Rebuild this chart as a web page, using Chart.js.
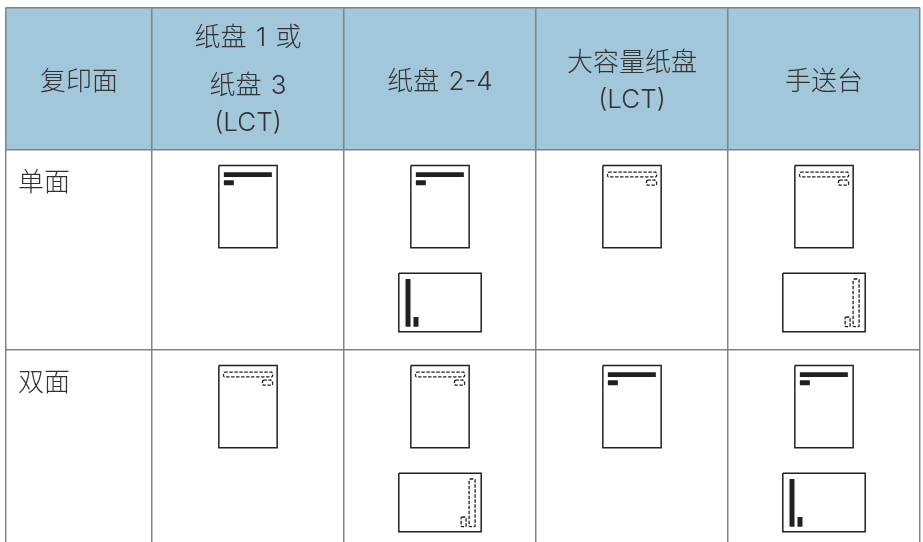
<!DOCTYPE html>
<html>
<head>
<meta charset="utf-8">
<style>
  html, body { margin: 0; padding: 0; background: #fff; }
  canvas { display: block; }
</style>
<script src="https://cdn.jsdelivr.net/npm/chart.js@4"></script>
</head>
<body>
<canvas id="paperChart" width="923" height="542"></canvas>
<script>
const columnEdges = [6, 152, 344, 536, 728, 920];
const rowEdges = [7.5, 150, 350, 542];

const columnLabels = [
    ['复印面'],
    ['纸盘 1 或', '纸盘 3', '(LCT)'],
    ['纸盘 2-4'],
    ['大容量纸盘', '(LCT)'],
    ['手送台'],
];
const rowLabels = ['单面', '双面'];

// which side the print lands on, per row and per tray column
const portraitPages = [
    ['solid', 'solid', 'dashed', 'dashed'],
    ['dashed', 'dashed', 'solid', 'solid'],
];
const landscapePages = [
    [null, 'solid', null, 'dashed'],
    [null, 'dashed', null, 'solid'],
];

const INK = '#231f20';
const LINE_GAP = { 1: [0], 2: [-18.5, 18], 3: [-43.5, 4, 41] };

function rect(x0, y0, x1, y1) {
    return [
        { x: x0, y: y0 }, { x: x1, y: y0 }, { x: x1, y: y1 }, { x: x0, y: y1 }, { x: x0, y: y0 },
    ];
}

function pill(x0, y0, x1, y1) {
    const c = 0.8;
    return [
        { x: x0 + c, y: y0 }, { x: x1 - c, y: y0 }, { x: x1, y: y0 + c }, { x: x1, y: y1 - c },
        { x: x1 - c, y: y1 }, { x: x0 + c, y: y1 }, { x: x0, y: y1 - c }, { x: x0, y: y0 + c },
        { x: x0 + c, y: y0 },
    ];
}

function filled(points, color) {
    return { data: points, showLine: true, fill: 'shape', backgroundColor: color, borderColor: color, borderWidth: 0, pointRadius: 0 };
}

function outline(points, width, dash) {
    return { data: points, showLine: true, fill: false, borderColor: INK, borderWidth: width, borderDash: dash || [], pointRadius: 0 };
}

function paper(datasets, cx, top, w, h, bars, style) {
    const x0 = cx - w / 2;
    datasets.push(outline(rect(x0, top, x0 + w, top + h), 1.5));
    bars.forEach(b => {
        const box = [x0 + b[0], top + b[1], x0 + b[2], top + b[3]];
        if (style === 'solid') datasets.push(filled(rect(...box), INK));
        else datasets.push(outline(pill(...box), 1.3, [3.4, 1.6]));
    });
}

const datasets = [filled(rect(columnEdges[0], rowEdges[0], columnEdges[5], rowEdges[1]), '#a2c7db')];

rowLabels.forEach((_, r) => {
    portraitPages[r].forEach((style, c) => {
        const cx = (columnEdges[c + 1] + columnEdges[c + 2]) / 2;
        const top = rowEdges[r + 1];
        const bars = style === 'solid'
            ? [[5, 6.7, 53, 11.4], [5, 14.7, 15, 19.7]]
            : [[4.7, 6.7, 53.7, 11.4], [43.7, 14.7, 53.7, 19.7]];
        paper(datasets, cx, top + 15.5, 58.3, 82.3, bars, style);
        const land = landscapePages[r][c];
        if (land) {
            const landBars = land === 'solid'
                ? [[6.7, 5.7, 11.7, 53.4], [14.7, 43.7, 19.7, 53.4]]
                : [[70.3, 5.7, 76.3, 53.4], [62.3, 43.7, 67.3, 53.4]];
            paper(datasets, cx, top + 123.3, 82.4, 58.4, landBars, land);
        }
    });
});

const tableText = {
    id: 'tableText',
    afterDatasetsDraw(chart) {
        const { ctx, scales: { x, y } } = chart;
        ctx.save();
        ctx.fillStyle = '#333333';
        ctx.font = '300 26px Inter, "Noto Sans CJK SC"';
        ctx.wordSpacing = '2px';
        ctx.textBaseline = 'middle';
        ctx.textAlign = 'center';
        columnLabels.forEach((lines, c) => {
            const cx = x.getPixelForValue((columnEdges[c] + columnEdges[c + 1]) / 2);
            lines.forEach((line, i) => {
                ctx.fillText(line, cx, y.getPixelForValue(82 + LINE_GAP[lines.length][i]));
            });
        });
        ctx.textAlign = 'left';
        rowLabels.forEach((label, r) => {
            ctx.fillText(label, x.getPixelForValue(18), y.getPixelForValue(rowEdges[r + 1] + 33));
        });
        ctx.restore();
    },
};

function tableAxis(edges, ruled, reverse) {
    return {
        type: 'linear',
        min: edges[0],
        max: edges[edges.length - 1],
        reverse: reverse,
        afterBuildTicks: axis => { axis.ticks = ruled.map(v => ({ value: v })); },
        ticks: { display: false },
        border: { display: false },
        grid: { color: '#808386', lineWidth: 1.5, drawTicks: false, z: 1 },
    };
}

new Chart(document.getElementById('paperChart'), {
    type: 'scatter',
    data: { datasets: datasets },
    options: {
        responsive: false,
        animation: false,
        layout: { padding: { left: 6, right: 3, top: 7.5, bottom: 0 } },
        plugins: { legend: { display: false }, tooltip: { enabled: false } },
        scales: {
            x: tableAxis(columnEdges, columnEdges, false),
            // the table runs off the bottom of the page, so no closing rule
            y: tableAxis(rowEdges, rowEdges.slice(0, -1), true),
        },
    },
    plugins: [tableText],
});
</script>
</body>
</html>
